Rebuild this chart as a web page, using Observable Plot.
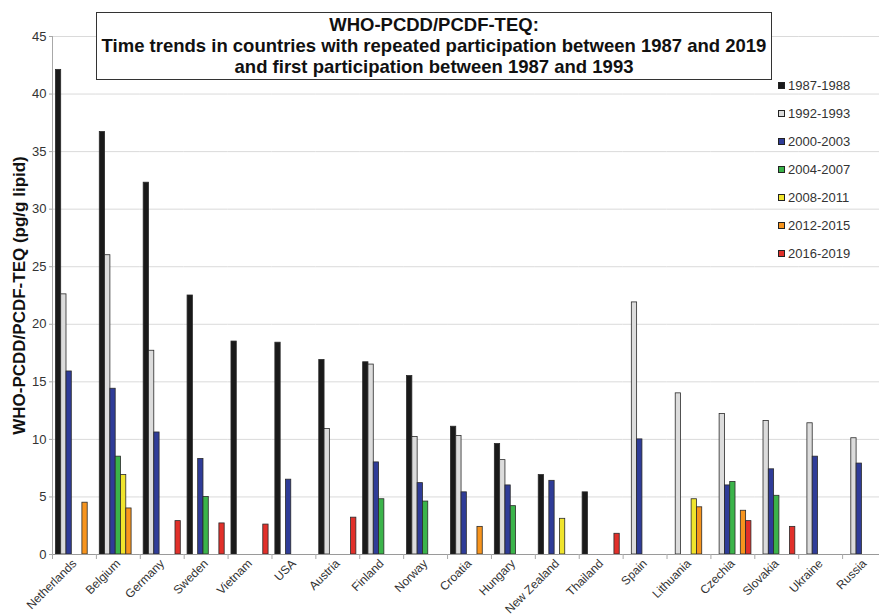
<!DOCTYPE html>
<html>
<head>
<meta charset="utf-8">
<script src="https://cdn.jsdelivr.net/npm/d3@7"></script>
<script src="https://cdn.jsdelivr.net/npm/@observablehq/plot@0.6"></script>
<style>
  html, body { margin: 0; padding: 0; background: #fff; }
  body { font-family: "Liberation Sans", Arial, sans-serif; }
  #wrap { position: relative; width: 879px; height: 615px; overflow: hidden; }
  #chart svg { display: block; }
  #title {
    position: absolute; left: 96px; top: 12px; width: 674px; height: 65px;
    border: 1px solid #333; background: #fff; box-sizing: content-box;
    text-align: center; font-weight: bold; font-size: 18.5px; line-height: 21px;
    color: #111; padding-top: 1px; white-space: nowrap;
  }
  #legend { position: absolute; left: 778px; top: 71px; }
  .item { height: 28px; display: flex; align-items: center; font-size: 13px; color: #333; }
  .sw { width: 5px; height: 5px; border: 1px solid #222; margin-right: 3px; }
  [aria-label="y-axis label"] text { font-weight: bold; font-size: 17px; fill: #111; }
</style>
</head>
<body>
<div id="wrap">
  <div id="chart"></div>
  <div id="title"></div>
  <div id="legend"></div>
</div>
<script>
const titleLines = [
  "WHO-PCDD/PCDF-TEQ:",
  "Time trends in countries with repeated participation between 1987 and 2019",
  "and first participation between 1987 and 1993"
];
const yLabel = "WHO-PCDD/PCDF-TEQ (pg/g lipid)";

const countries = ["Netherlands","Belgium","Germany","Sweden","Vietnam","USA","Austria","Finland","Norway","Croatia","Hungary","New Zealand","Thailand","Spain","Lithuania","Czechia","Slovakia","Ukraine","Russia"];
const periods = ["1987-1988","1992-1993","2000-2003","2004-2007","2008-2011","2012-2015","2016-2019"];
const periodColors = ["#1a1a1a","#dcdcdc","#2f3c98","#3bb44a","#f0e42c","#f7941d","#e1302a"];
const yTicks = [0,5,10,15,20,25,30,35,40,45];

// values per period, in country order (null = no participation)
const v1987_1988 = [42.1,36.7,32.3,22.5,18.5,18.4,16.9,16.7,15.5,11.1,9.6,6.9,5.4,null,null,null,null,null,null];
const v1992_1993 = [22.6,26.0,17.7,null,null,null,10.9,16.5,10.2,10.3,8.2,null,null,21.9,14.0,12.2,11.6,11.4,10.1];
const v2000_2003 = [15.9,14.4,10.6,8.3,null,6.5,null,8.0,6.2,5.4,6.0,6.4,null,10.0,null,6.0,7.4,8.5,7.9];
const v2004_2007 = [null,8.5,null,5.0,null,null,null,4.8,4.6,null,4.2,null,null,null,null,6.3,5.1,null,null];
const v2008_2011 = [null,6.9,null,null,null,null,null,null,null,null,null,3.1,null,null,4.8,null,null,null,null];
const v2012_2015 = [4.5,4.0,null,null,null,null,null,null,null,2.4,null,null,null,null,4.1,3.8,null,null,null];
const v2016_2019 = [null,null,2.9,2.7,2.6,null,3.2,null,null,null,null,null,1.8,null,null,2.9,2.4,null,null];

const series = [v1987_1988, v1992_1993, v2000_2003, v2004_2007, v2008_2011, v2012_2015, v2016_2019];
const rows = [];
series.forEach((vals, p) => vals.forEach((v, c) => {
  if (v != null) rows.push({country: countries[c], period: periods[p], value: v});
}));

// layout
const W = 879, H = 615, mL = 52, plotRight = 886, mT = 36, mB = 61;
const step = (plotRight - mL) / countries.length;

const chart = Plot.plot({
  width: W, height: H,
  marginTop: mT, marginBottom: mB, marginLeft: mL, marginRight: 0,
  style: {fontFamily: "'Liberation Sans', Arial, sans-serif", fontSize: "12px", color: "#333", background: "transparent", overflow: "visible"},
  fx: {domain: countries, padding: 0, round: false, range: [mL, plotRight]},
  x: {domain: periods, paddingInner: 0, paddingOuter: 0.64, round: false, axis: null},
  y: {domain: [0, 45]},
  color: {domain: periods, range: periodColors},
  marks: [
    Plot.gridY(yTicks, {stroke: "#dadada", strokeOpacity: 1, strokeWidth: 1}),
    Plot.barY(rows, {fx: "country", x: "period", y: "value", fill: "period", stroke: "#2a2a2a", strokeWidth: 0.8}),
    Plot.ruleY([0], {stroke: "#9a9a9a", strokeWidth: 1}),
    Plot.frame({anchor: "left", facetAnchor: "left", stroke: "#a8a8a8"}),
    Plot.axisY(yTicks, {tickSize: 3, tickPadding: 3, fontSize: 13, stroke: "#a8a8a8", label: yLabel, labelAnchor: "center", labelOffset: 40, labelArrow: "none"}),
    Plot.axisFx({anchor: "bottom", tickSize: 0, tickRotate: -45, fontSize: 12, tickPadding: 7, label: null}),
    Plot.axisFx({anchor: "bottom", tickSize: 5, tickFormat: () => "", dx: -step / 2, stroke: "#a8a8a8", label: null})
  ]
});
document.getElementById("chart").appendChild(chart);

document.getElementById("title").innerHTML = titleLines.map(t => `<div>${t}</div>`).join("");

const legend = document.getElementById("legend");
periods.forEach((p, i) => {
  const it = document.createElement("div");
  it.className = "item";
  it.innerHTML = `<span class="sw" style="background:${periodColors[i]}"></span><span>${p}</span>`;
  legend.appendChild(it);
});
</script>
</body>
</html>
